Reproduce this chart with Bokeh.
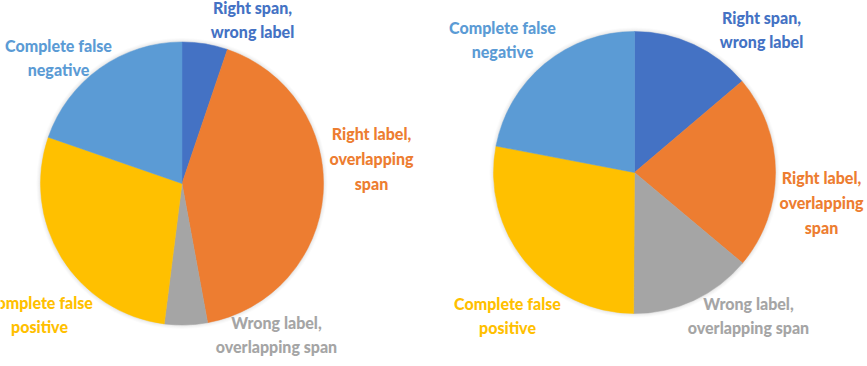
import numpy as np
from bokeh.plotting import figure
from bokeh.models import Range1d
from bokeh.core.properties import value
from bokeh.embed import file_html
from bokeh.resources import INLINE

categories = ["Right span, wrong label", "Right label, overlapping span",
              "Wrong label, overlapping span", "Complete false positive",
              "Complete false negative"]
label_texts = ["Right span,\nwrong label", "Right label,\noverlapping\nspan",
               "Wrong label,\noverlapping span", "Complete false\npositive",
               "Complete false\nnegative"]
colors = ["#4472C4", "#ED7D31", "#A5A5A5", "#FFC000", "#5B9BD5"]
left_values = [5.2, 41.9, 4.9, 28.3, 19.7]
right_values = [13.8, 22.3, 14.0, 27.9, 22.0]

W, H = 867, 366
p = figure(width=W, height=H, output_backend="svg", toolbar_location=None,
           x_range=Range1d(0, W), y_range=Range1d(0, H), min_border=0)
p.axis.visible = False
p.grid.visible = False
p.outline_line_color = None
p.background_fill_color = "white"

def pie(cx, cy, r, vals, label_pos):
    vals = np.array(vals, dtype=float)
    frac = vals / vals.sum()
    cum = np.concatenate([[0], np.cumsum(frac)]) * 2 * np.pi
    # soft shadow
    for k, a in [(4, 0.03), (3, 0.04), (2, 0.05), (1, 0.07)]:
        p.circle(x=[cx], y=[H - cy], radius=r + k, fill_color="#808080",
                 fill_alpha=a, line_color=None)
    p.wedge(x=cx, y=H - cy, radius=r,
            start_angle=list(np.pi / 2 - cum[:-1]),
            end_angle=list(np.pi / 2 - cum[1:]),
            direction="clock", fill_color=colors, line_color=colors,
            line_width=0.5)
    lx = [pt[0] for pt in label_pos]
    ly = [H - pt[1] for pt in label_pos]
    p.text(x=lx, y=ly, text=label_texts, text_color=colors,
           text_align="center", text_baseline="middle",
           text_font=value("Lato Black, Lato"), text_font_style="bold",
           text_font_size="16px", text_line_height=1.3)

pie(181.5, 183, 141.5, left_values,
    [(252, 19), (371, 158), (276, 334), (39, 314), (58, 57)])
pie(634, 172, 141, right_values,
    [(761, 29), (821, 202), (748, 315), (507, 315), (502, 39)])

open("out.html", "w").write(file_html(p, INLINE))
